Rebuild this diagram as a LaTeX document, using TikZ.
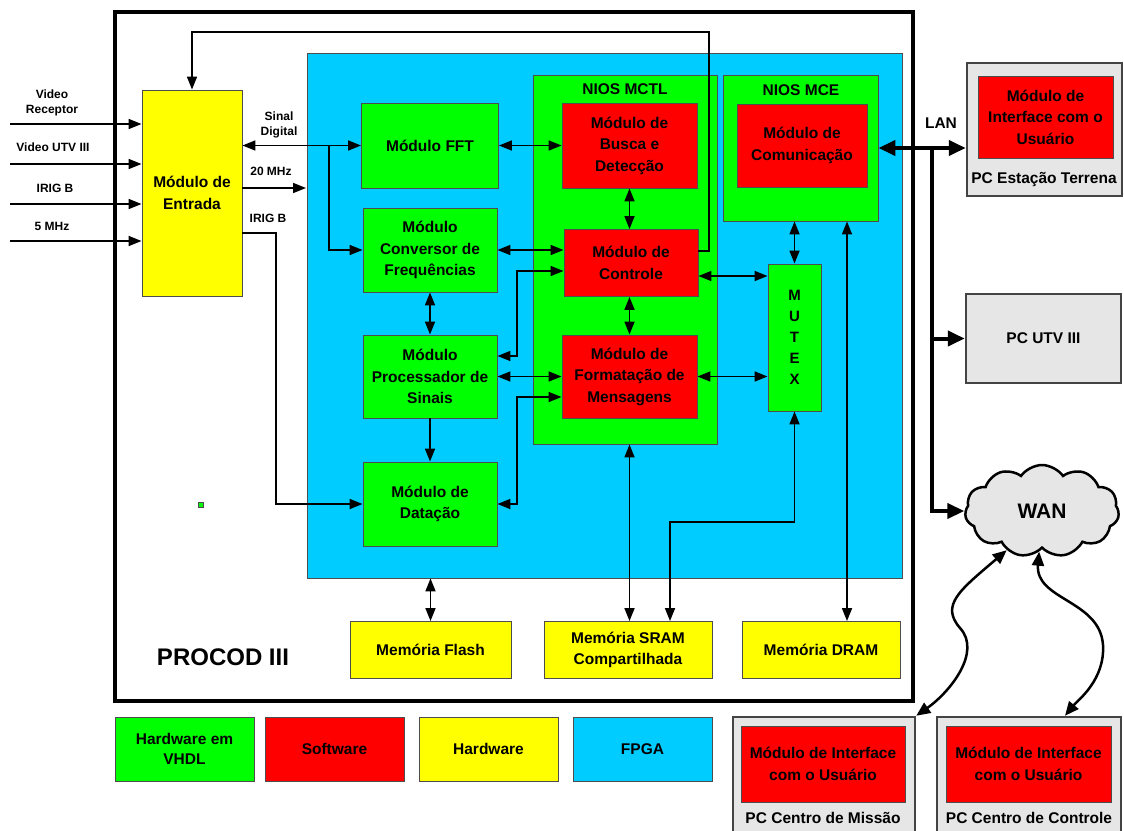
\documentclass[tikz,border=0pt]{standalone}
\usepackage{fontspec}
\setmainfont{Liberation Sans}
\usetikzlibrary{arrows.meta,shapes.symbols,calc}
\definecolor{hwg}{HTML}{00FF00}
\definecolor{swr}{HTML}{FF0000}
\definecolor{hwy}{HTML}{FFFF00}
\definecolor{fpgac}{HTML}{00CCFF}
\definecolor{pcg}{HTML}{E6E6E6}
\definecolor{edgec}{HTML}{4D4D4D}
\definecolor{pcedge}{HTML}{444444}
\tikzset{
  fnt/.style={font=\fontsize{15.5}{21.5}\selectfont\bfseries},
  sml/.style={font=\fontsize{12}{15}\selectfont\bfseries, align=center, inner sep=0pt},
  memf/.style={font=\fontsize{15.5}{20.5}\selectfont\bfseries},
  blk/.style={draw=edgec, line width=0.9pt, align=center, inner sep=0pt, fnt},
  gbox/.style={blk, fill=hwg},
  rbox/.style={blk, fill=swr},
  ybox/.style={blk, fill=hwy},
  bbox/.style={blk, fill=fpgac},
  pcbox/.style={draw=pcedge, line width=2.5pt, fill=pcg, inner sep=0pt, align=center, fnt},
  ttl/.style={fnt, inner sep=0pt},
  con/.style={line width=1.7pt, -{Triangle[length=13pt,width=10pt]}},
  dcon/.style={line width=1.7pt, {Triangle[length=13pt,width=10pt]}-{Triangle[length=13pt,width=10pt]}},
  busa/.style={line width=4pt, -{Triangle[length=17pt,width=15pt]}},
  busd/.style={line width=4pt, {Triangle[length=17pt,width=15pt]}-{Triangle[length=17pt,width=15pt]}},
  curv/.style={line width=2.5pt, {Triangle[length=14pt,width=12pt]}-{Triangle[length=14pt,width=12pt]}},
}
\begin{document}
\begin{tikzpicture}[x=1pt,y=-1pt]
\useasboundingbox (0,0) rectangle (1124,830);
\fill[white] (0,0) rectangle (1124,830);

% PROCOD outer box and FPGA
\node[draw=black, line width=4pt, minimum width=798pt, minimum height=689pt, inner sep=0pt] (procod) at (514,356.5) {};
\node[draw=edgec, line width=0.8pt, fill=fpgac, minimum width=595pt, minimum height=525pt, inner sep=0pt] (fpga) at (604.5,315.5) {};
\node[font=\fontsize{24}{28}\selectfont\bfseries, inner sep=0pt] (procodl) at (223,657) {PROCOD III};
\node[draw=edgec, line width=0.6pt, fill=hwg, minimum size=5pt, inner sep=0pt] (dot) at (201,505) {};

% Entrada
\node[ybox, minimum width=100pt, minimum height=206pt] (ent) at (192,193) {Módulo de\\Entrada};

% green modules
\node[gbox, minimum width=137pt, minimum height=85pt] (fft) at (430,145.5) {Módulo FFT};
\node[gbox, minimum width=134pt, minimum height=84pt] (conv) at (430,250) {Módulo\\Conversor de\\Frequências};
\node[gbox, minimum width=134pt, minimum height=83pt] (proc) at (430,376.5) {Módulo\\Processador de\\Sinais};
\node[gbox, minimum width=134pt, minimum height=84pt] (dat) at (430,504) {Módulo de\\Datação};

% NIOS MCTL
\node[gbox, minimum width=184pt, minimum height=369pt] (mctl) at (625,259.5) {};
\node[ttl] (mctlt) at (625,89) {NIOS MCTL};
\node[rbox, minimum width=135pt, minimum height=85pt] (busca) at (629.5,145.5) {Módulo de\\Busca e\\Detecção};
\node[rbox, minimum width=134pt, minimum height=67pt] (ctrl) at (631,263) {Módulo de\\Controle};
\node[rbox, minimum width=135pt, minimum height=83pt] (form) at (629.5,376.5) {Módulo de\\Formatação de\\Mensagens};

% NIOS MCE
\node[gbox, minimum width=155pt, minimum height=146pt] (mce) at (800.5,148) {};
\node[ttl] (mcet) at (801,90) {NIOS MCE};
\node[rbox, minimum width=130pt, minimum height=83pt] (com) at (802,145.5) {Módulo de\\Comunicação};

% MUTEX
\node[gbox, minimum width=53pt, minimum height=147pt, font=\fontsize{15}{21}\selectfont\bfseries] (mutex) at (794.5,337.5) {M\\U\\T\\E\\X};

% memories
\node[ybox, memf, minimum width=161pt, minimum height=57pt] (flash) at (430.5,650) {Memória Flash};
\node[ybox, memf, minimum width=168pt, minimum height=57pt] (sram) at (628,650) {Memória SRAM\\Compartilhada};
\node[ybox, memf, minimum width=158pt, minimum height=57pt] (dram) at (821,650) {Memória DRAM};

% legend
\node[gbox, memf, minimum width=139pt, minimum height=64pt] (lg1) at (184.5,749) {Hardware em\\VHDL};
\node[rbox, memf, minimum width=139pt, minimum height=64pt] (lg2) at (334.5,749) {Software};
\node[ybox, memf, minimum width=139pt, minimum height=64pt] (lg3) at (488.5,749) {Hardware};
\node[bbox, memf, minimum width=139pt, minimum height=64pt] (lg4) at (642.5,749) {FPGA};

% PCs
\node[pcbox, minimum width=155pt, minimum height=133pt] (pce) at (1044.5,129.5) {};
\node[rbox, minimum width=135pt, minimum height=82pt] (pcer) at (1045.5,117) {Módulo de\\Interface com o\\Usuário};
\node[ttl] (pcel) at (1044,180) {PC Estação Terrena};
\node[pcbox, minimum width=155pt, minimum height=89pt] (pcu) at (1043.5,338.5) {PC UTV III};
\node[pcbox, minimum width=182pt, minimum height=115pt] (pcm) at (824,774.5) {};
\node[rbox, minimum width=164pt, minimum height=76pt] (pcmr) at (823,764) {Módulo de Interface\\com o Usuário};
\node[ttl] (pcml) at (823,818) {PC Centro de Missão};
\node[pcbox, minimum width=184pt, minimum height=115pt] (pcc) at (1029,774.5) {};
\node[rbox, minimum width=165pt, minimum height=76pt] (pccr) at (1028.5,764) {Módulo de Interface\\com o Usuário};
\node[ttl] (pccl) at (1029,818) {PC Centro de Controle};

% WAN cloud
\node[cloud, cloud puffs=11, cloud puff arc=110, aspect=1.75, draw=black, line width=2.5pt, fill=pcg, minimum width=154pt, minimum height=92pt, inner sep=0pt, font=\fontsize{21}{24}\selectfont\bfseries] (wan) at (1042,511) {WAN};

% input labels
\node[sml] (lb1) at (52,103) {Video\\Receptor};
\node[sml] (lb2) at (53,147) {Video UTV III};
\node[sml] (lb3) at (55,188) {IRIG B};
\node[sml] (lb4) at (52,226) {5 MHz};
\node[sml] (lb5) at (279,125) {Sinal\\Digital};
\node[sml] (lb6) at (271,171) {20 MHz};
\node[sml] (lb7) at (268,218) {IRIG B};
\node[ttl] (lan) at (941,123) {LAN};

% input arrows
\coordinate (in1) at (10,124);
\coordinate (in2) at (10,164);
\coordinate (in3) at (10,204);
\coordinate (in4) at (10,241);
\foreach \c in {in1,in2,in3,in4} \draw[con] (\c) -- (\c -| ent.west);

% Entrada outputs
\draw[dcon] (fft.west) -- (fft.west -| ent.east);
\coordinate (br) at (329,145.5);
\draw[con] (br) |- (conv.west);
\coordinate (mhz) at (306,188);
\draw[con] (mhz -| ent.east) -- (mhz);
\coordinate (irigk) at (276,233);
\draw[con] (irigk -| ent.east) -- (irigk) |- (dat.west);

% feedback from Controle to Entrada
\coordinate (fb) at (709,32);
\draw[con] ([yshift=12pt]ctrl.east) -| (fb) -| (ent.north);

% internal connections
\draw[dcon] (fft.east) -- (busca.west);
\draw[dcon] (busca.south) -- (busca.south |- ctrl.north);
\draw[dcon] (conv.east) -- (conv.east -| ctrl.west);
\coordinate (k1) at (517,356);
\draw[dcon] ([yshift=-8pt]ctrl.west) -| (k1) -- (k1 -| proc.east);
\draw[dcon] (proc.east) -- (proc.east -| form.west);
\coordinate (k2) at (517,397);
\draw[dcon] (k2 -| form.west) -- (k2) |- (dat.east);
\draw[dcon] (busca.south |- ctrl.south) -- (busca.south |- form.north);
\draw[dcon] (conv.south) -- (conv.south |- proc.north);
\draw[con] (proc.south) -- (proc.south |- dat.north);
\draw[dcon] ([yshift=-13pt]ctrl.east) -- ([yshift=-13pt]ctrl.east -| mutex.west);
\draw[dcon] (form.east) -- (form.east -| mutex.west);
\draw[dcon] (mutex.north |- mce.south) -- (mutex.north);

% memories
\draw[dcon] (flash.north |- fpga.south) -- (flash.north);
\draw[dcon] (busca.south |- mctl.south) -- (busca.south |- sram.north);
\coordinate (k3) at (670,522);
\draw[dcon] (k3 |- sram.north) -- (k3) -| (mutex.south);
\coordinate (k4) at (847,400);
\draw[dcon] (k4 |- mce.south) -- (k4 |- dram.north);

% LAN bus
\draw[busd] (mce.east) -- (mce.east -| pce.west);
\coordinate (bus) at (932,148);
\draw[busa] (bus) |- (wan.west);
\draw[busa] (bus |- pcu.west) -- (pcu.west);

% curvy WAN links
\draw[curv] (wan.228) .. controls (960,590) and (940,605) .. (960,628) .. controls (982,652) and (950,692) .. (pcm.north east);
\draw[curv] (wan.266) .. controls (1035,600) and (1100,600) .. (1103,645) .. controls (1105,680) and (1078,700) .. ([xshift=36pt]pcc.north);
\end{tikzpicture}
\end{document}
